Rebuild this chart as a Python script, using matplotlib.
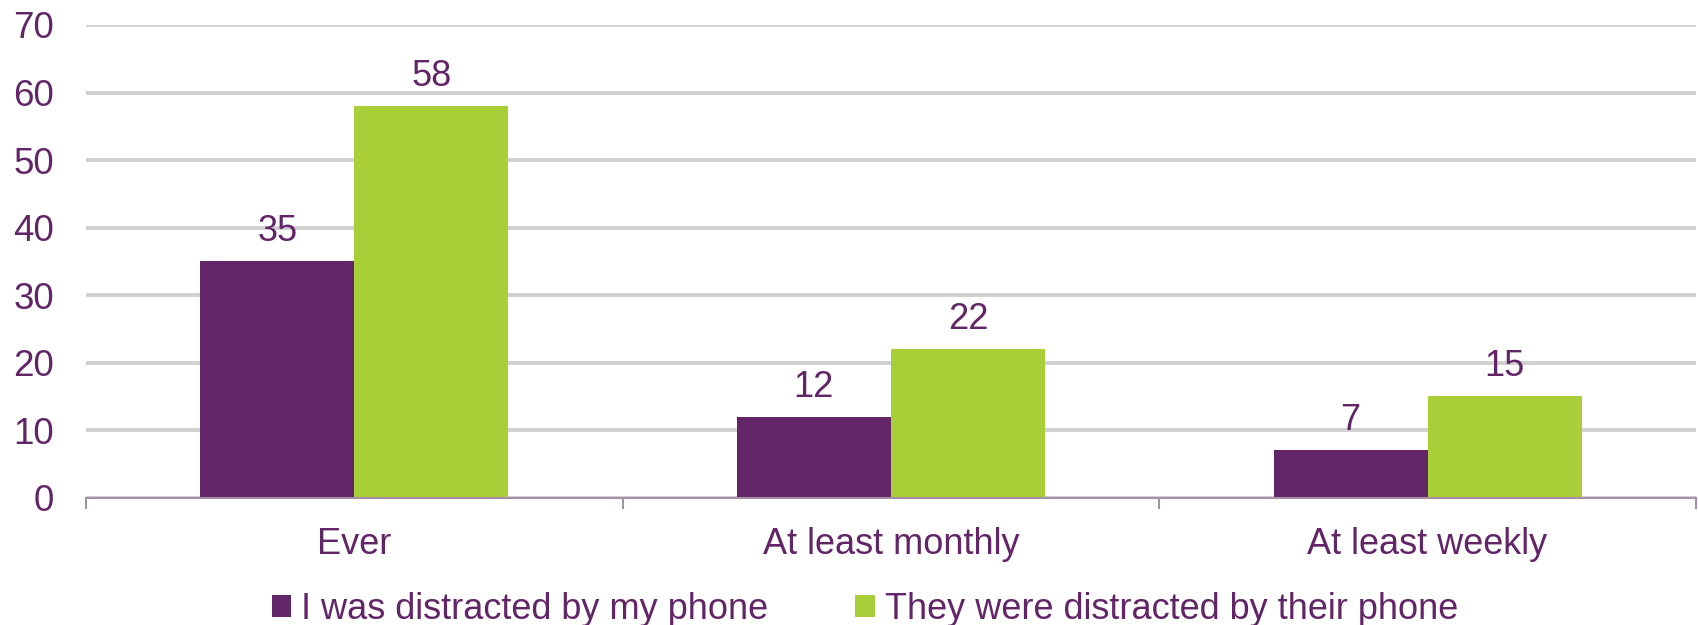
import matplotlib.pyplot as plt
import numpy as np

categories = ["Ever", "At least monthly", "At least weekly"]
series_names = ["I was distracted by my phone", "They were distracted by their phone"]
me_values = [35, 12, 7]
them_values = [58, 22, 15]
y_ticks = [0, 10, 20, 30, 40, 50, 60, 70]

purple = "#622567"
green = "#a9cf38"

plt.rcParams["font.family"] = ["Liberation Sans", "DejaVu Sans"]

fig = plt.figure(figsize=(16.98, 6.25), dpi=100)
ax = fig.add_axes([0.0506, 0.2036, 0.9482, 0.7564])

x = np.arange(len(categories))
width = 0.287
b1 = ax.bar(x - width / 2, me_values, width, color=purple, label=series_names[0], zorder=3)
b2 = ax.bar(x + width / 2, them_values, width, color=green, label=series_names[1], zorder=3)

# value labels above each bar
for bars in (b1, b2):
    for rect in bars:
        h = rect.get_height()
        ax.annotate(str(int(h)), (rect.get_x() + rect.get_width() / 2, h),
                    xytext=(0, 14.4), textcoords="offset points",
                    ha="center", va="baseline", fontsize=26, color=purple)

ax.set_xlim(-0.5, 2.5)
ax.set_ylim(0, 70)
ax.set_yticks(y_ticks)
ax.set_xticks(x)
ax.set_xticklabels(categories)
ax.set_xticks([-0.5, 0.5, 1.5, 2.5], minor=True)
ax.tick_params(axis="x", which="major", length=0, pad=21, labelsize=26, labelcolor=purple)
ax.tick_params(axis="x", which="minor", length=8, width=1.5, color="#a590a6")
ax.tick_params(axis="y", length=0, pad=23, labelsize=26.5, labelcolor=purple)

ax.grid(axis="y", color="#d0d0d0", linewidth=2.8, zorder=0)
for side in ("top", "right", "left"):
    ax.spines[side].set_visible(False)
ax.spines["bottom"].set_color("#a590a6")
ax.spines["bottom"].set_linewidth(1.5)
ax.spines["bottom"].set_zorder(4)

fig.legend(loc="center", bbox_to_anchor=(865 / 1698, 0.025), ncol=2, frameon=False,
           fontsize=26, labelcolor=purple, handlelength=0.55, handleheight=0.55,
           handletextpad=0.28, columnspacing=2.4, borderpad=0, borderaxespad=0)

fig.savefig("out.png", dpi=100)
